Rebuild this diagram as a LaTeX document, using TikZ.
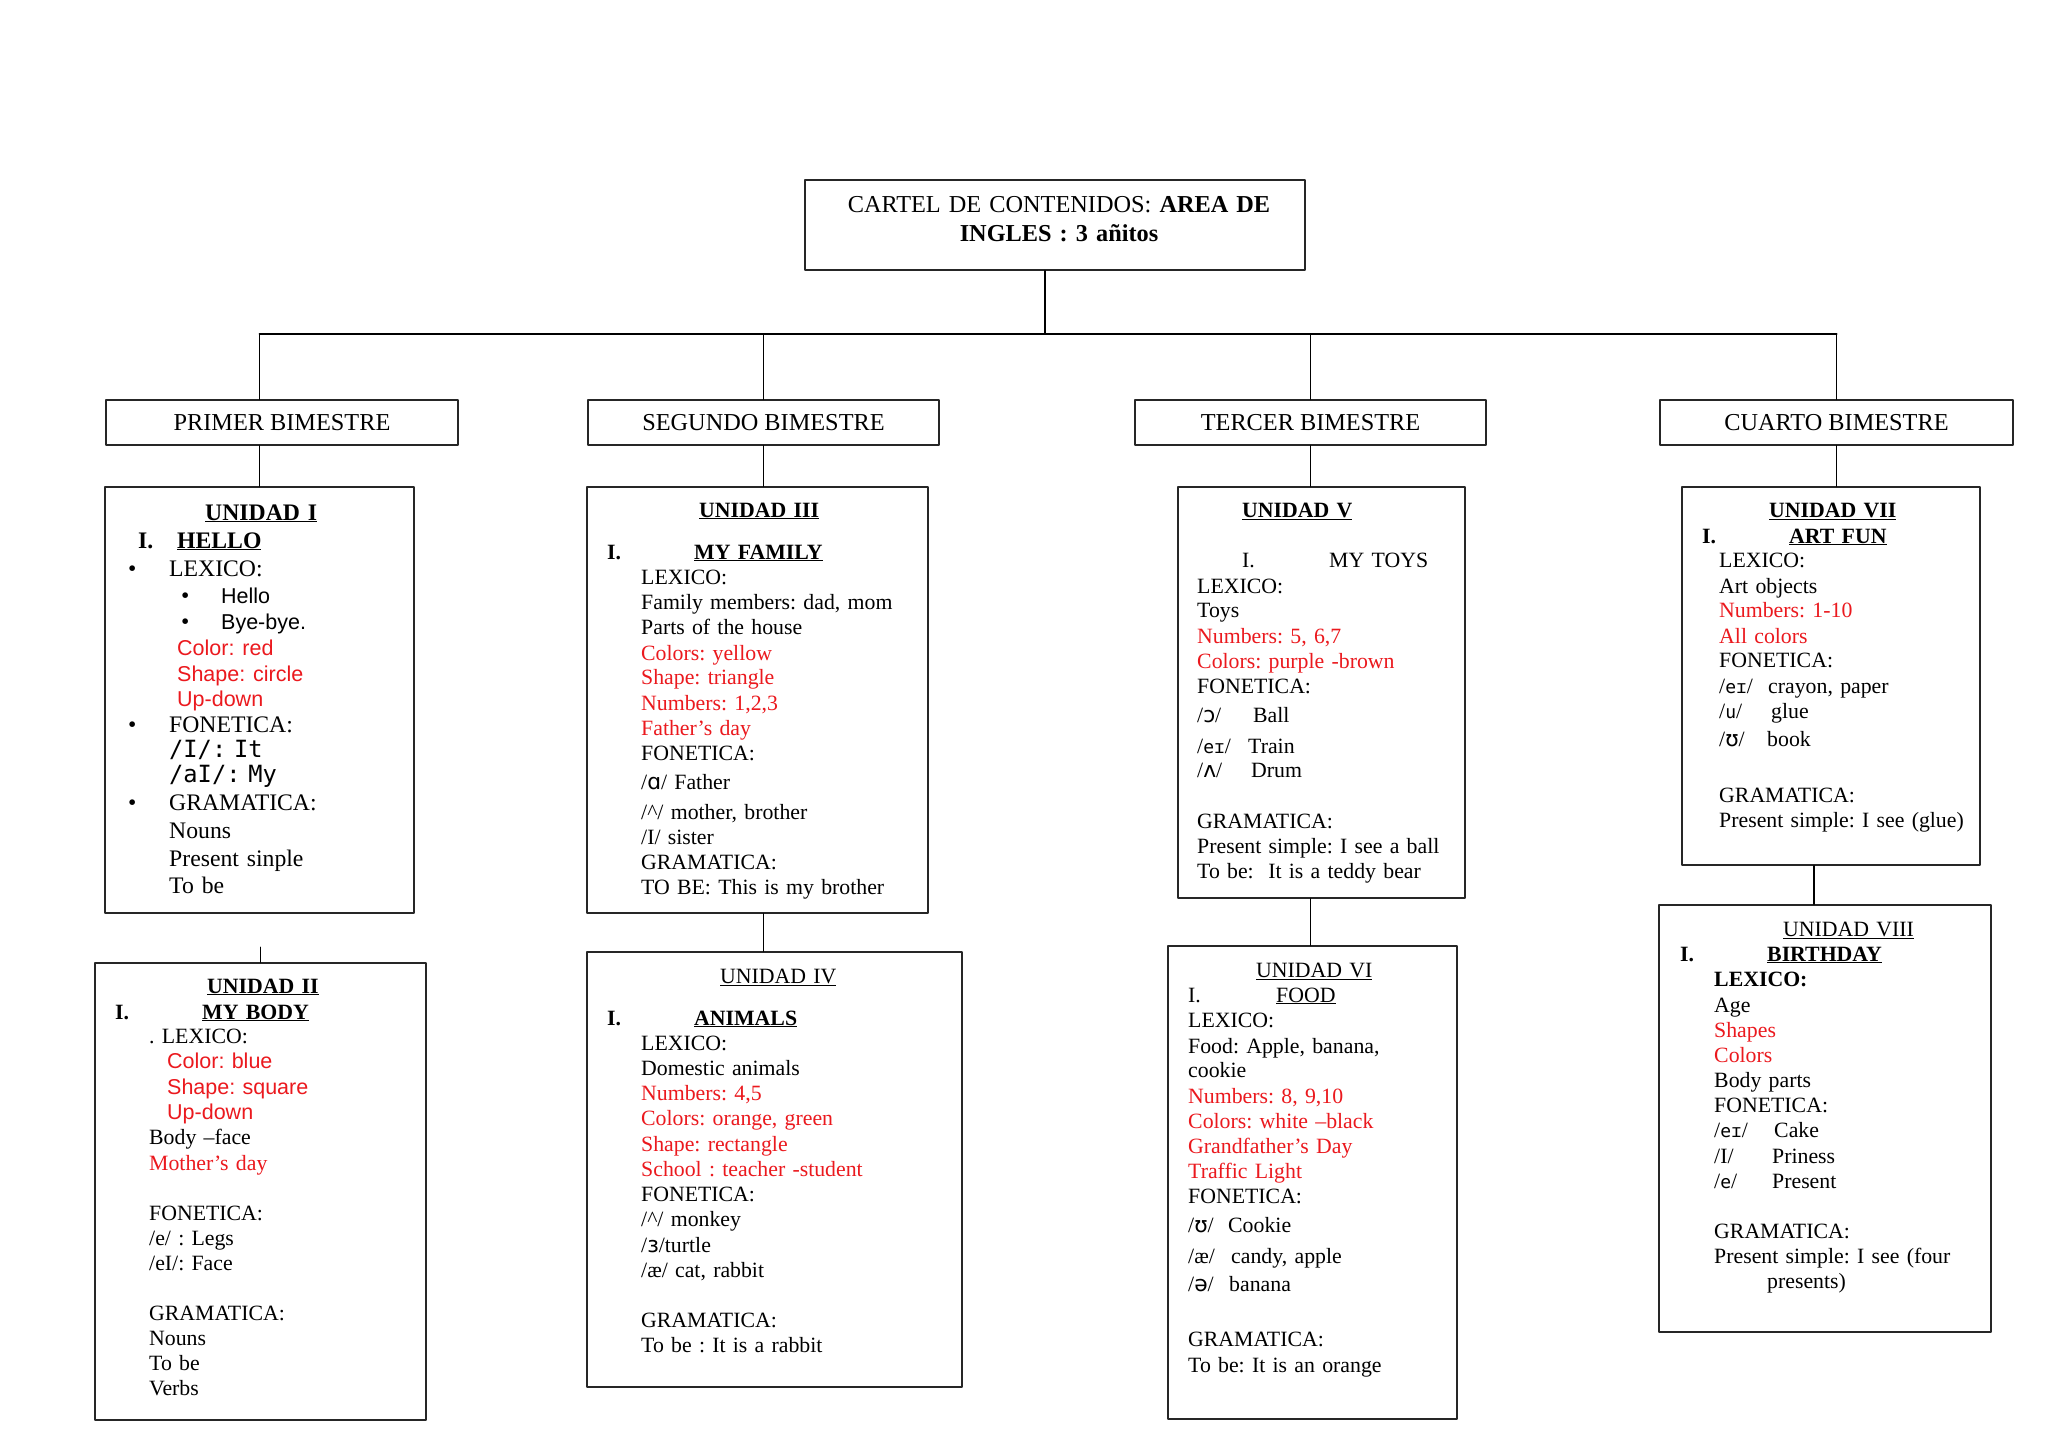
\documentclass[tikz,border=0pt]{standalone}
\usepackage{fontspec}
\setmainfont{Liberation Serif}
\newfontfamily\arialf{Liberation Sans}
\newfontfamily\monof{DejaVu Sans Mono}
\newfontfamily\ipaf{DejaVu Sans}
\definecolor{rojo}{RGB}{235,25,30}
\newcommand\rojo[1]{{\color{rojo}#1}}
\newcommand\arl[1]{{\arialf\fontsize{21.5}{25}\selectfont #1}}
\newcommand\fon[1]{/{\monof\fontsize{18}{25}\selectfont #1}/}
\frenchspacing
\tikzset{
  caja/.style={draw=black!85, line width=1.5pt, inner sep=0pt},
  texto/.style={anchor=base west, inner sep=0pt, text width=400pt, align=left,
    font=\fontsize{21.8}{25}\selectfont\frenchspacing},
}
\begin{document}
\begin{tikzpicture}[x=1pt, y=-1pt, line join=round, line cap=round]
	\fill[white] (0,0) rectangle (2048,1447);
	\useasboundingbox (0,0) rectangle (2048,1447);
	
	% Titulo
	\node[caja, minimum width=500pt, minimum height=90pt] (title) at (1055,225) {};
	\node[anchor=base, inner sep=0pt, text width=480pt, align=center,
		font=\fontsize{24.3}{29}\selectfont\frenchspacing] (titletxt) at (1059,213)
		{CARTEL DE CONTENIDOS: \textbf{AREA DE}\\\textbf{INGLES : 3 añitos}};
	
	% Bimestres
	\node[caja, minimum width=352pt, minimum height=45pt, font=\fontsize{24.3}{29}\selectfont] (prim) at (282,422.5) {PRIMER BIMESTRE};
	\node[caja, minimum width=351pt, minimum height=45pt, font=\fontsize{24.3}{29}\selectfont] (seg) at (763.5,422.5) {SEGUNDO BIMESTRE};
	\node[caja, minimum width=351pt, minimum height=45pt, font=\fontsize{24.3}{29}\selectfont] (ter) at (1310.5,422.5) {TERCER BIMESTRE};
	\node[caja, minimum width=353pt, minimum height=45pt, font=\fontsize{24.3}{29}\selectfont] (cua) at (1836.5,422.5) {CUARTO BIMESTRE};
	
	% Cajas de las unidades
	\node[caja, minimum width=309pt, minimum height=426pt] (u1) at (259.5,700) {};
	\node[caja, minimum width=331pt, minimum height=457pt] (u2) at (260.5,1191.5) {};
	\node[caja, minimum width=341pt, minimum height=426pt] (u3) at (757.5,700) {};
	\node[caja, minimum width=375pt, minimum height=435pt] (u4) at (774.5,1169.5) {};
	\node[caja, minimum width=287pt, minimum height=411pt] (u5) at (1321.5,692.5) {};
	\node[caja, minimum width=289pt, minimum height=473pt] (u6) at (1312.5,1182.5) {};
	\node[caja, minimum width=298pt, minimum height=378pt] (u7) at (1831,676) {};
	\node[caja, minimum width=332pt, minimum height=427pt] (u8) at (1825,1118.5) {};
	
	% Lineas del arbol
	\coordinate (bus) at (1045,334);
	\draw[line width=1.5pt] (title.south -| bus) -- (bus);
	\draw[line width=2pt] (bus -| u1.north) -- (bus -| cua.north);
	\draw[line width=1.5pt] (bus -| u1.north) -- (prim.north -| u1.north);
	\draw[line width=1.5pt] (bus -| seg.north) -- (seg.north);
	\draw[line width=1.5pt] (bus -| ter.north) -- (ter.north);
	\draw[line width=1.5pt] (bus -| cua.north) -- (cua.north);
	\draw[line width=1.5pt] (prim.south -| u1.north) -- (u1.north);
	\draw[line width=1.5pt] (seg.south) -- (seg.south |- u3.north);
	\draw[line width=1.5pt] (ter.south) -- (ter.south |- u5.north);
	\draw[line width=1.5pt] (cua.south) -- (cua.south |- u7.north);
	\draw[line width=1.5pt] ([yshift=15pt]u2.north) -- (u2.north);
	\draw[line width=1.5pt] (seg.south |- u3.south) -- (seg.south |- u4.north);
	\draw[line width=1.5pt] (ter.south |- u5.south) -- (ter.south |- u6.north);
	\draw[line width=1.5pt] ([xshift=-17pt]u7.south) -- ([xshift=-17pt]u7.south |- u8.north);
	
	% Unidad I
	\node[texto, font=\fontsize{23.7}{26}\selectfont\frenchspacing] (u1txt) at (169,520) {%
		\hspace*{36pt}\underline{\textbf{UNIDAD I}}\\[2pt]
		\hspace*{-31pt}\makebox[39pt][l]{\textbf{I.}}\underline{\textbf{HELLO}}\\[2pt]
		\hspace*{-41pt}\makebox[41pt][l]{\textbullet}LEXICO:\\[1pt]
		\hspace*{12pt}\makebox[40pt][l]{\textbullet}\arl{Hello}\\
		\hspace*{12pt}\makebox[40pt][l]{\textbullet}\arl{Bye-bye.}\\
		\hspace*{8pt}\rojo{\arl{Color: red}}\\
		\hspace*{8pt}\rojo{\arl{Shape: circle}}\\[-1pt]
		\hspace*{8pt}\rojo{\arl{Up-down}}\\
		\hspace*{-41pt}\makebox[41pt][l]{\textbullet}FONETICA:\\[-1pt]
		{\monof /I/: It}\\[-1pt]
		{\monof /aI/: My}\\[2pt]
		\hspace*{-41pt}\makebox[41pt][l]{\textbullet}GRAMATICA:\\[2pt]
		Nouns\\[2pt]
		Present sinple\\[1pt]
		To be};
	
	% Unidad II
	\node[texto] (u2txt) at (149,993) {%
		\hspace*{58pt}\underline{\textbf{UNIDAD II}}\\[1pt]
		\hspace*{-34pt}\makebox[87pt][l]{\textbf{I.}}\underline{\textbf{MY BODY}}\\[-1pt]
		. LEXICO:\\
		\hspace*{18pt}\rojo{\arl{Color: blue}}\\[1pt]
		\hspace*{18pt}\rojo{\arl{Shape: square}}\\
		\hspace*{18pt}\rojo{\arl{Up-down}}\\
		Body –face\\[1pt]
		\rojo{Mother’s day}\\[25pt]
		FONETICA:\\
		/e/ : Legs\\
		/eI/: Face\\[25pt]
		GRAMATICA:\\
		Nouns\\
		To be\\
		Verbs};
	
	% Unidad III
	\node[texto] (u3txt) at (641,517) {%
		\hspace*{58pt}\underline{\textbf{UNIDAD III}}\\[17pt]
		\hspace*{-34pt}\makebox[87pt][l]{\textbf{I.}}\underline{\textbf{MY FAMILY}}\\
		LEXICO:\\
		Family members: dad, mom\\
		Parts of the house\\[1pt]
		\rojo{Colors: yellow}\\[-1pt]
		\rojo{Shape: triangle}\\[1pt]
		\rojo{Numbers: 1,2,3}\\
		\rojo{Father’s day}\\
		FONETICA:\\[4pt]
		/{\ipaf ɑ}/ Father\\[5pt]
		/\textasciicircum/ mother, brother\\
		/I/ sister\\
		GRAMATICA:\\
		TO BE: This is my brother};
	
	% Unidad IV
	\node[texto] (u4txt) at (641,983) {%
		\hspace*{79pt}\underline{UNIDAD IV}\\[17pt]
		\hspace*{-34pt}\makebox[87pt][l]{\textbf{I.}}\underline{\textbf{ANIMALS}}\\
		LEXICO:\\
		Domestic animals\\
		\rojo{Numbers: 4,5}\\
		\rojo{Colors: orange, green}\\[1pt]
		\rojo{Shape: rectangle}\\
		\rojo{School : teacher -student}\\
		FONETICA:\\
		/\textasciicircum/ monkey\\[1pt]
		/{\ipaf ɜ}/turtle\\
		/æ/ cat, rabbit\\[25pt]
		GRAMATICA:\\
		To be : It is a rabbit};
	
	% Unidad V
	\node[texto] (u5txt) at (1197,517) {%
		\hspace*{45pt}\underline{\textbf{UNIDAD V}}\\[25pt]
		\hspace*{45pt}\makebox[87pt][l]{I.}MY TOYS\\[1pt]
		LEXICO:\\[-1pt]
		Toys\\[1pt]
		\rojo{Numbers: 5, 6,7}\\
		\rojo{Colors: purple -brown}\\
		FONETICA:\\[4pt]
		\makebox[56pt][l]{/{\ipaf ɔ}/}Ball\\[6pt]
		\makebox[51pt][l]{\fon{eɪ}}Train\\[-1pt]
		\makebox[54pt][l]{/{\ipaf ʌ}/}Drum\\[26pt]
		GRAMATICA:\\
		Present simple: I see a ball\\
		To be:\ \ It is a teddy bear};
	
	% Unidad VI
	\node[texto] (u6txt) at (1188,977) {%
		\hspace*{68pt}\underline{UNIDAD VI}\\
		\makebox[88pt][l]{I.}\underline{FOOD}\\
		LEXICO:\\[1pt]
		Food: Apple, banana,\\[-1pt]
		cookie\\[1pt]
		\rojo{Numbers: 8, 9,10}\\
		\rojo{Colors: white –black}\\
		\rojo{Grandfather’s Day}\\
		\rojo{Traffic Light}\\
		FONETICA:\\[4pt]
		\makebox[40pt][l]{/{\ipaf ʊ}/}Cookie\\[6pt]
		\makebox[43pt][l]{/æ/}candy, apple\\[3pt]
		\makebox[41pt][l]{/{\ipaf ə}/}banana\\[30pt]
		GRAMATICA:\\[1pt]
		To be: It is an orange};
	
	% Unidad VII
	\node[texto] (u7txt) at (1719,517) {%
		\hspace*{50pt}\underline{\textbf{UNIDAD VII}}\\[1pt]
		\hspace*{-17pt}\makebox[87pt][l]{\textbf{I.}}\underline{\textbf{ART FUN}}\\[-1pt]
		LEXICO:\\[1pt]
		Art objects\\[-1pt]
		\rojo{Numbers: 1-10}\\[1pt]
		\rojo{All colors}\\[-1pt]
		FONETICA:\\[1pt]
		\makebox[49pt][l]{\fon{eɪ}}crayon, paper\\
		\makebox[52pt][l]{\fon{u}}glue\\[3pt]
		\makebox[48pt][l]{/{\ipaf ʊ}/}book\\[31pt]
		GRAMATICA:\\
		Present simple: I see (glue)};
	
	% Unidad VIII
	\node[texto] (u8txt) at (1714,936) {%
		\hspace*{69pt}\underline{UNIDAD VIII}\\
		\hspace*{-34pt}\makebox[87pt][l]{\textbf{I.}}\underline{\textbf{BIRTHDAY}}\\
		\textbf{LEXICO:}\\[1pt]
		Age\\
		\rojo{Shapes}\\
		\rojo{Colors}\\
		Body parts\\
		FONETICA:\\
		\makebox[60pt][l]{\fon{eɪ}}Cake\\[1pt]
		\makebox[58pt][l]{/I/}Priness\\
		\makebox[58pt][l]{\fon{e}}Present\\[25pt]
		GRAMATICA:\\
		Present simple: I see (four\\
		\hspace*{53pt}presents)};
\end{tikzpicture}
\end{document}
